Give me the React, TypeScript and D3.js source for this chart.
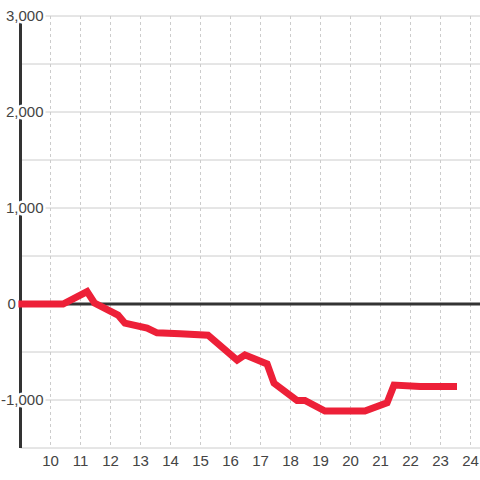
import React from "react";
import * as d3 from "d3";

const xValues = [8.93, 10.42, 11.22, 11.47, 12.25, 12.48, 13.22, 13.55, 14.32, 15.25, 16.22, 16.48, 17.22, 17.45, 18.22, 18.48, 19.15, 20.48, 21.22, 21.45, 22.32, 23.55];
const yValues = [0, 0, 130, 10, -115, -200, -250, -300, -310, -325, -585, -530, -625, -825, -1005, -1005, -1115, -1115, -1030, -845, -860, -860];
const xTicks = [10, 11, 12, 13, 14, 15, 16, 17, 18, 19, 20, 21, 22, 23, 24];
const yGrid = [-1500, -1000, -500, 0, 500, 1000, 1500, 2000, 2500, 3000];
const yLabels = [-1000, 0, 1000, 2000, 3000];

const W = 480;
const H = 480;

export default function App() {
  const x = d3.scaleLinear().domain([9, 9 + (480 - 20.5) / 30]).range([20.5, 480]);
  const y = d3.scaleLinear().domain([-1500, 3000]).range([448, 16]);
  const data = xValues.map((v, i) => [v, yValues[i]] as [number, number]);
  const line = d3.line<[number, number]>().x((d) => x(d[0])).y((d) => y(d[1]));
  const fmt = d3.format(",");
  const font = "'Liberation Sans', Arial, Helvetica, sans-serif";
  const textColor = "#444";

  return (
    <svg width={W} height={H} style={{ position: "absolute", left: 0, top: 0, background: "#fff" }}>
      {yGrid.map((v) => (
        <line key={"g" + v} x1={x(9)} x2={480} y1={y(v)} y2={y(v)} stroke="#cccccc" strokeWidth={1} />
      ))}
      {xTicks.map((t) => (
        <line key={"v" + t} x1={x(t)} x2={x(t)} y1={y(3000)} y2={y(-1500)} stroke="#cccccc" strokeWidth={1} strokeDasharray="3,3" />
      ))}
      <line x1={x(9)} x2={x(9)} y1={y(3000)} y2={y(-1500)} stroke="#333" strokeWidth={3} />
      <line x1={x(9)} x2={480} y1={y(0)} y2={y(0)} stroke="#333" strokeWidth={3} />
      {yLabels.map((v) => (
        <text
          key={"l" + v}
          x={v === 0 ? 7.5 : 43.5}
          y={y(v) + 5}
          textAnchor={v === 0 ? "start" : "end"}
          fontFamily={font}
          fontSize={15}
          fill={textColor}
          stroke="#fff"
          strokeWidth={5}
          strokeLinejoin="round"
          style={{ paintOrder: "stroke" }}
        >
          {fmt(v).replace("−", "-")}
        </text>
      ))}
      {xTicks.map((t) => (
        <text key={"x" + t} x={x(t)} y={466} textAnchor="middle" fontFamily={font} fontSize={15} fill={textColor}>
          {t}
        </text>
      ))}
      <path d={line(data) || ""} fill="none" stroke="#ed2038" strokeWidth={7} strokeLinejoin="miter" />
    </svg>
  );
}
